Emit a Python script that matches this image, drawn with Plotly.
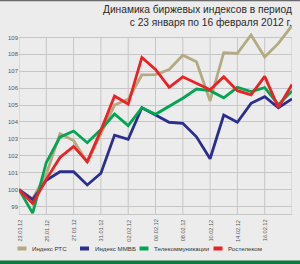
import plotly.graph_objects as go

# ---- data ----
dates = ["23.01.12", "24.01.12", "25.01.12", "26.01.12", "27.01.12", "30.01.12",
         "31.01.12", "01.02.12", "02.02.12", "03.02.12", "06.02.12", "07.02.12",
         "08.02.12", "09.02.12", "10.02.12", "13.02.12", "14.02.12", "15.02.12",
         "16.02.12", "17.02.12", "20.02.12"]
tick_labels = ["23.01.12", "25.01.12", "27.01.12", "31.01.12", "02.02.12",
               "06.02.12", "08.02.12", "10.02.12", "14.02.12", "16.02.12"]
y_ticks = [99, 100, 101, 102, 103, 104, 105, 106, 107, 108, 109]

rts = [100, 99.45, 100.9, 103.3, 102.9, 101.6, 103.3, 105.0, 105.35, 106.78, 106.8,
       107.1, 107.95, 107.56, 105.24, 108.1, 108.06, 109.15, 107.85, 108.65, 109.7]
micex = [100, 99.4, 100.55, 101.05, 101.05, 100.27, 100.96, 103.22, 102.97, 104.84, 104.41,
         103.98, 103.92, 103.12, 101.82, 104.41, 103.98, 105.1, 105.49, 104.84, 105.36]
telecom = [100, 98.6, 101.6, 103.1, 103.46, 102.77, 103.55, 104.47, 103.78, 104.84, 104.45,
           104.9, 105.4, 105.95, 105.85, 105.43, 106.05, 105.8, 106.03, 105.02, 105.83]
rostelecom = [100, 99.18, 100.6, 101.9, 102.55, 101.65, 103.5, 105.53, 105.06, 107.82, 107.11,
              106.05, 106.67, 106.28, 105.9, 106.67, 105.85, 105.6, 106.7, 104.85, 106.22]

series_names = ["Индекс РТС", "Индекс ММВБ", "Телекоммуникации", "Ростелеком"]
series_values = [rts, micex, telecom, rostelecom]
series_colors = ["#b3aa82", "#2b2e8e", "#00a651", "#ed2024"]

title_text = "Динамика биржевых индексов в период<br>с 23 января по 16 февраля 2012 г."

# ---- layout helpers (pixel -> paper) ----
W, H = 300, 264
def px(x):
    return x / W
def py(y):
    return 1 - y / H

FONT = "Liberation Sans, Arial, sans-serif"
GRID = "#c6c6c6"
BG = "#ececec"

x_idx = list(range(len(dates)))
tick_idx = [dates.index(t) for t in tick_labels]
y_bottom, y_top_frame, y_top = 98.55, 109, 109.75

fig = go.Figure()
for name, vals, col in zip(series_names, series_values, series_colors):
    fig.add_trace(go.Scatter(x=x_idx, y=vals, mode="lines", name=name,
                             line=dict(color=col, width=2.8), showlegend=False))

shapes = []
# vertical grid lines / frame
for i in list(range(0, len(dates), 2)):
    shapes.append(dict(type="line", xref="x", yref="y", x0=i, x1=i,
                       y0=y_bottom, y1=y_top_frame, layer="below",
                       line=dict(color=GRID, width=1)))
# top dark strip and bottom green strip
shapes.append(dict(type="rect", xref="paper", yref="paper", x0=px(0), x1=px(300),
                   y0=py(1.2), y1=py(0), line=dict(width=0), fillcolor="#6a6a6a"))
shapes.append(dict(type="rect", xref="paper", yref="paper", x0=px(0), x1=px(300),
                   y0=py(264), y1=py(260.5), line=dict(width=0), fillcolor="#0b7a3c"))

annotations = [dict(text=title_text, xref="paper", yref="paper", x=px(294), y=py(1.5),
                    xanchor="right", yanchor="top", align="right", showarrow=False,
                    font=dict(family=FONT, size=10.2, color="#2a2a2a"))]

# rotated x tick labels
for i, lab in zip(tick_idx, tick_labels):
    annotations.append(dict(text=lab, xref="x", yref="paper", x=i, y=py(217.5),
                            xanchor="center", yanchor="top", textangle=-90,
                            showarrow=False,
                            font=dict(family=FONT, size=5.6, color="#555")))

# legend (swatch + label)
legend_x = [17.5, 80, 139.5, 213.5]
sw_w = 9
for lx, name, col in zip(legend_x, series_names, series_colors):
    shapes.append(dict(type="rect", xref="paper", yref="paper",
                       x0=px(lx), x1=px(lx + sw_w), y0=py(250.5), y1=py(246.5),
                       line=dict(width=0), fillcolor=col))
    annotations.append(dict(text=name, xref="paper", yref="paper",
                            x=px(lx + sw_w + 3.5), y=py(248.5), xanchor="left",
                            yanchor="middle", showarrow=False,
                            font=dict(family=FONT, size=6.2, color="#333")))

fig.update_layout(
    width=W, height=H,
    margin=dict(l=0, r=0, t=0, b=0),
    paper_bgcolor=BG, plot_bgcolor=BG,
    showlegend=False,
    shapes=shapes, annotations=annotations,
    xaxis=dict(domain=[px(19), px(292)], range=[0, len(dates) - 1],
               tickmode="array", tickvals=tick_idx, showticklabels=False,
               showgrid=False, zeroline=False,
               showline=True, linecolor=GRID, linewidth=1, ticks="",
               automargin=False, fixedrange=True),
    yaxis=dict(domain=[py(214), py(24.8)], range=[y_bottom, y_top],
               tickmode="array", tickvals=y_ticks,
               showgrid=True, gridcolor=GRID, gridwidth=1, zeroline=False,
               showline=False, ticks="",
               tickfont=dict(family=FONT, size=6, color="#555"),
               automargin=False, fixedrange=True),
)

fig.write_html("out.html")
